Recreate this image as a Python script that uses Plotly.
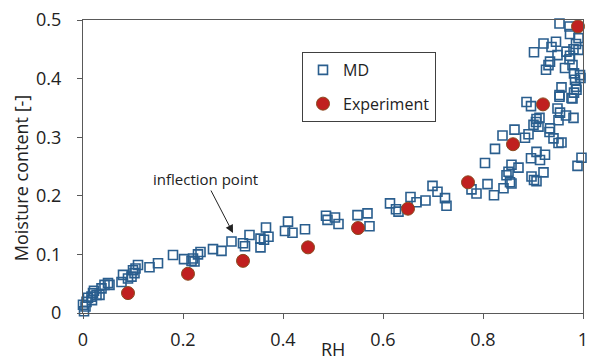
import plotly.graph_objects as go

# MD simulation points (RH, moisture content)
md_rh = [0.002, 0.005, 0.0, 0.007, 0.01, 0.017, 0.02, 0.022, 0.018, 0.027, 0.033, 0.037, 0.043, 0.05, 0.053,
         0.077, 0.08, 0.09, 0.097, 0.1, 0.105, 0.103, 0.11, 0.133, 0.15, 0.18, 0.202, 0.217, 0.223, 0.22,
         0.23, 0.235, 0.26, 0.277, 0.297, 0.32, 0.324, 0.333, 0.366, 0.355, 0.362, 0.371, 0.355, 0.41,
         0.404, 0.419, 0.444, 0.486, 0.489, 0.504, 0.511, 0.549, 0.569, 0.573, 0.614, 0.626, 0.631, 0.655,
         0.667, 0.685, 0.699, 0.709, 0.724, 0.727, 0.777, 0.787, 0.809, 0.822, 0.804, 0.824, 0.839, 0.863,
         0.884, 0.891, 0.887, 0.896, 0.901, 0.906, 0.911, 0.907, 0.913, 0.934, 0.933, 0.941, 0.951, 0.957,
         0.949, 0.954, 0.951, 0.966, 0.981, 0.953, 0.977, 0.896, 0.907, 0.914, 0.924, 0.847, 0.851, 0.857,
         0.871, 0.854, 0.897, 0.902, 0.907, 0.921, 0.841, 0.857, 0.997, 0.989, 0.953, 0.973, 0.974, 0.991,
         0.986, 0.991, 0.981, 0.974, 0.902, 0.921, 0.937, 0.946, 0.949, 0.967, 0.973, 0.934, 0.931, 0.926,
         0.964, 0.979, 0.982, 0.994, 0.984, 0.995, 0.986, 0.982, 0.987, 0.957, 0.953, 0.979]
md_mc = [0.003, 0.011, 0.014, 0.019, 0.026, 0.028, 0.034, 0.038, 0.022, 0.031, 0.031, 0.042, 0.048, 0.051, 0.048,
         0.053, 0.065, 0.059, 0.062, 0.073, 0.076, 0.068, 0.082, 0.078, 0.085, 0.099, 0.092, 0.089, 0.088, 0.093,
         0.1, 0.104, 0.109, 0.106, 0.122, 0.119, 0.114, 0.133, 0.146, 0.127, 0.125, 0.13, 0.112, 0.156,
         0.14, 0.137, 0.143, 0.166, 0.159, 0.163, 0.152, 0.167, 0.17, 0.148, 0.187, 0.177, 0.173, 0.198,
         0.189, 0.192, 0.217, 0.207, 0.196, 0.183, 0.211, 0.204, 0.22, 0.201, 0.256, 0.28, 0.303, 0.313,
         0.299, 0.305, 0.36, 0.353, 0.321, 0.326, 0.318, 0.331, 0.333, 0.315, 0.309, 0.298, 0.29, 0.291,
         0.349, 0.342, 0.329, 0.337, 0.333, 0.369, 0.367, 0.264, 0.275, 0.261, 0.27, 0.235, 0.241, 0.253,
         0.248, 0.223, 0.233, 0.227, 0.225, 0.24, 0.213, 0.221, 0.265, 0.251, 0.494, 0.489, 0.476, 0.469,
         0.459, 0.449, 0.45, 0.439, 0.445, 0.46, 0.454, 0.463, 0.44, 0.446, 0.433, 0.429, 0.423, 0.415,
         0.418, 0.423, 0.409, 0.406, 0.398, 0.401, 0.386, 0.376, 0.381, 0.385, 0.372, 0.366]

# Experimental points
exp_rh = [0.09, 0.21, 0.32, 0.45, 0.55, 0.65, 0.77, 0.86, 0.92, 0.99]
exp_mc = [0.034, 0.067, 0.089, 0.112, 0.145, 0.178, 0.223, 0.288, 0.356, 0.489]

x_ticks = [0, 0.2, 0.4, 0.6, 0.8, 1]
x_labels = ["0", "0.2", "0.4", "0.6", "0.8", "1"]
y_ticks = [0, 0.1, 0.2, 0.3, 0.4, 0.5]
y_labels = ["0", "0.1", "0.2", "0.3", "0.4", "0.5"]

FONT = "Open Sans"
AX = "#595959"
TXT = "#222222"

fig = go.Figure()
fig.add_trace(go.Scatter(
    x=md_rh, y=md_mc, mode="markers", name="MD", legendgroup="a",
    marker=dict(symbol="square-open", size=9, color="#2a5e8e", line=dict(width=1.6, color="#2a5e8e")),
    cliponaxis=False,
))
fig.add_trace(go.Scatter(
    x=exp_rh, y=exp_mc, mode="markers", name="Experiment", legendgroup="b",
    marker=dict(symbol="circle", size=13, color="#c0201f", line=dict(width=1, color="#8a4a1e")),
    cliponaxis=False,
))

fig.add_annotation(
    x=0.30, y=0.1365, xref="x", yref="y", text="inflection point",
    showarrow=True, ax=-28, ay=-54, axref="pixel", ayref="pixel",
    arrowhead=2, arrowsize=1.6, arrowwidth=1, arrowcolor=TXT,
    font=dict(family=FONT, size=15, color=TXT),
)
# axis titles
fig.add_annotation(
    x=0.5, y=-0.1706, xref="paper", yref="paper", text="RH", showarrow=False,
    xanchor="center", yanchor="bottom", font=dict(family=FONT, size=18, color=TXT),
)
fig.add_annotation(
    x=-0.124, y=0.46, xref="paper", yref="paper", text="Moisture content [-]", showarrow=False,
    textangle=-90, xanchor="center", yanchor="middle", font=dict(family=FONT, size=18, color=TXT),
)

fig.update_layout(
    width=589, height=363,
    margin=dict(l=83, r=6, t=20, b=50),
    paper_bgcolor="white", plot_bgcolor="white",
    font=dict(family=FONT, size=18, color=TXT),
    showlegend=True,
    legend=dict(
        x=0.438, y=0.891, xanchor="left", yanchor="top",
        bordercolor="#404040", borderwidth=1, bgcolor="white",
        font=dict(family=FONT, size=16, color=TXT),
        tracegroupgap=10,
    ),
    xaxis=dict(
        range=[0, 1], tickvals=x_ticks, ticktext=x_labels, automargin=False,
        showgrid=False, zeroline=False, showline=True, linecolor=AX, linewidth=1.3, mirror=True,
        ticks="outside", ticklen=5, tickcolor=AX, tickwidth=1.3,
        tickfont=dict(family=FONT, size=18),
        ticklabelstandoff=5,
    ),
    yaxis=dict(
        range=[0, 0.5], tickvals=y_ticks, ticktext=y_labels, automargin=False,
        showgrid=False, zeroline=False, showline=True, linecolor=AX, linewidth=1.3, mirror=True,
        ticks="outside", ticklen=5, tickcolor=AX, tickwidth=1.3,
        tickfont=dict(family=FONT, size=18),
        ticklabelstandoff=12,
    ),
)

fig.write_html("out.html")
